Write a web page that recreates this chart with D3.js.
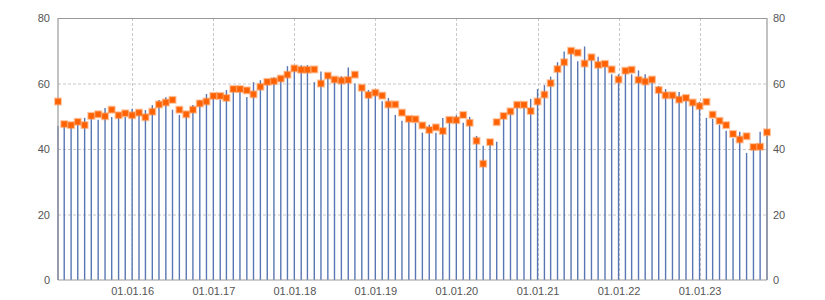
<!DOCTYPE html>
<html>
<head>
<meta charset="utf-8">
<script src="https://cdn.jsdelivr.net/npm/d3@7"></script>
<style>
  body { margin: 0; background: #fff; }
  svg text { font-family: "Liberation Sans", Arial, sans-serif; font-size: 11px; fill: #555; }
</style>
</head>
<body>
<div id="chart"></div>
<script>
// monthly series, first month Feb 2015, last month Nov 2023
const firstMonth = new Date(2015, 1, 1);
const lastMonth = new Date(2023, 10, 1);

const barValues = [
    47.0, 47.2, 47.0, 47.9, 49.5, 49.9, 48.9, 52.5, 49.8, 50.0, 49.8,
    52.2, 50.5, 51.9, 53.4, 55.0, 55.8, 52.0, 50.4, 50.2, 53.4, 55.0, 56.8,
    55.9, 55.1, 58.0, 58.0, 57.5, 55.9, 60.4, 61.0, 61.3, 61.9, 61.9, 65.3,
    65.3, 65.6, 65.6, 60.4, 63.7, 61.8, 60.8, 62.2, 64.9, 60.0, 57.8, 58.0,
    56.9, 54.6, 55.6, 50.4, 48.6, 48.4, 48.0, 45.0, 47.4, 45.0, 49.5, 48.2,
    50.3, 48.0, 49.8, 44.0, 41.0, 41.5, 42.2, 49.4, 50.9, 52.9, 52.5, 55.3,
    58.3, 59.5, 62.1, 66.5, 69.8, 69.8, 66.8, 71.3, 67.7, 68.2, 65.3, 62.8,
    62.8, 63.2, 62.8, 64.0, 62.8, 60.8, 59.2, 58.3, 55.7, 57.4, 55.3, 53.8,
    54.4, 49.5, 49.2, 47.4, 45.6, 43.3, 45.3, 38.8, 39.8, 45.3, 44.0
];

const markerValues = [
    54.5, 47.6, 47.3, 48.3, 47.3, 50.1, 50.6, 50.0, 52.0, 50.3, 50.9,
    50.3, 51.1, 49.7, 51.4, 53.6, 54.2, 55.0, 52.0, 50.6, 52.0, 53.9, 54.5,
    56.2, 56.2, 55.6, 58.3, 58.3, 57.9, 56.7, 59.0, 60.5, 60.7, 61.5, 62.7,
    64.6, 64.2, 64.2, 64.3, 60.0, 62.4, 61.2, 60.9, 61.1, 62.7, 58.7, 56.5,
    57.2, 56.3, 53.6, 53.6, 51.1, 49.2, 49.1, 47.2, 45.8, 46.6, 45.5, 48.9,
    48.8, 50.4, 48.0, 42.5, 35.5, 42.1, 48.2, 50.1, 51.5, 53.5, 53.5, 51.6,
    54.5, 56.6, 60.1, 64.4, 66.5, 70.0, 69.4, 66.1, 68.0, 65.7, 66.0, 64.3,
    61.2, 63.9, 64.2, 61.1, 60.6, 61.2, 58.0, 56.4, 56.4, 55.1, 55.6, 54.2,
    53.1, 54.4, 50.5, 48.6, 47.3, 44.6, 42.9, 43.9, 40.6, 40.7, 45.1
];

const yTicks = [0, 20, 40, 60, 80];

const months = d3.timeMonth.range(firstMonth, d3.timeMonth.offset(lastMonth, 1));
const data = months.map((m, i) => ({ date: m, bar: barValues[i], marker: markerValues[i] }));

const width = 825, height = 300;
const margin = { top: 18, right: 58, bottom: 20, left: 58 };
const innerW = width - margin.left - margin.right;
const innerH = height - margin.top - margin.bottom;

const svg = d3.select('#chart').append('svg')
    .attr('width', width)
    .attr('height', height);

const g = svg.append('g')
    .attr('transform', `translate(${margin.left},${margin.top})`);

const x = d3.scaleTime()
    .domain([firstMonth, lastMonth])
    .range([0, innerW]);

const y = d3.scaleLinear()
    .domain([0, 80])
    .range([innerH, 0]);

const yearTicks = d3.timeYear.range(new Date(2016, 0, 1), new Date(2024, 0, 1));

// grid
g.append('g')
    .selectAll('line')
    .data(yTicks.filter(t => t > 0 && t < 80))
    .enter().append('line')
    .attr('x1', 0).attr('x2', innerW)
    .attr('y1', d => y(d) + 0.5).attr('y2', d => y(d) + 0.5)
    .attr('stroke', '#c8c8c8')
    .attr('stroke-dasharray', '3,2');

g.append('g')
    .selectAll('line')
    .data(yearTicks)
    .enter().append('line')
    .attr('x1', d => Math.round(x(d)) + 0.5).attr('x2', d => Math.round(x(d)) + 0.5)
    .attr('y1', 0).attr('y2', innerH)
    .attr('stroke', '#c8c8c8')
    .attr('stroke-dasharray', '3,2');

// bars
g.append('g')
    .selectAll('line')
    .data(data)
    .enter().append('line')
    .attr('x1', d => x(d.date)).attr('x2', d => x(d.date))
    .attr('y1', innerH).attr('y2', d => y(d.bar))
    .attr('stroke', '#5876b3')
    .attr('stroke-width', 1.4);

// frame
const frame = g.append('g').attr('stroke', '#999').attr('stroke-width', 1.2);
frame.append('line').attr('x1', 0).attr('x2', innerW).attr('y1', 0.5).attr('y2', 0.5);
frame.append('line').attr('x1', 0).attr('x2', innerW).attr('y1', innerH).attr('y2', innerH);
frame.append('line').attr('x1', 0).attr('x2', 0).attr('y1', 0).attr('y2', innerH);
frame.append('line').attr('x1', innerW).attr('x2', innerW).attr('y1', 0).attr('y2', innerH);

// markers
g.append('g')
    .selectAll('rect')
    .data(data)
    .enter().append('rect')
    .attr('x', d => x(d.date) - 3)
    .attr('y', d => y(d.marker) - 3)
    .attr('width', 6)
    .attr('height', 6)
    .attr('fill', '#ff6000')
    .attr('stroke', 'rgba(255,130,50,0.45)')
    .attr('stroke-width', 2);

// axes
const xAxis = g.append('g')
    .attr('transform', `translate(0,${innerH})`)
    .call(d3.axisBottom(x).tickValues(yearTicks).tickFormat(d3.timeFormat('%d.%m.%y')).tickSize(0).tickPadding(7));
xAxis.select('.domain').remove();

const yLeft = g.append('g')
    .call(d3.axisLeft(y).tickValues(yTicks).tickSize(0).tickPadding(8));
yLeft.select('.domain').remove();

const yRight = g.append('g')
    .attr('transform', `translate(${innerW},0)`)
    .call(d3.axisRight(y).tickValues(yTicks).tickSize(0).tickPadding(6));
yRight.select('.domain').remove();

g.selectAll('.tick text').attr('fill', '#555').style('font-size', '11px');
</script>
</body>
</html>
